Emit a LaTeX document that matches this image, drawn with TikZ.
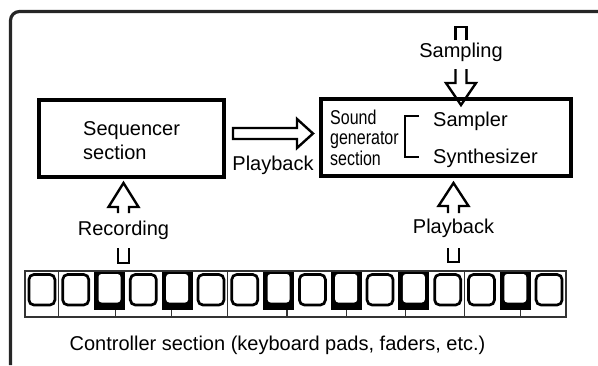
\documentclass[tikz,border=0pt]{standalone}
\usepackage{fontspec}
\setmainfont{Liberation Sans}
\newfontfamily\condfont[FakeStretch=0.8]{Liberation Sans}
\usetikzlibrary{calc}

% half widths of block-arrow shafts and heads
\def\shw{5.5pt}
\def\hhw{15pt}
% width of one pad cell on the keyboard
\def\kw{33.8125}

% closed tail of a vertical block arrow: #1 closed end, #2 open end
\newcommand\shafttail[2]{%
  \draw[arrowline] ([xshift=-\shw]#2) -- ([xshift=-\shw]#1) -- ([xshift=\shw]#1) -- ([xshift=\shw]#2);}
% head part of a vertical block arrow: #1 open shaft end, #2 head base, #3 tip
\newcommand\arrowhead[3]{%
  \draw[arrowline] ([xshift=-\shw]#1) -- ([xshift=-\shw]#2) -- ([xshift=-\hhw]#2) -- (#3)
    -- ([xshift=\hhw]#2) -- ([xshift=\shw]#2) -- ([xshift=\shw]#1);}

\begin{document}
\begin{tikzpicture}[x=1pt,y=-1pt,
  every node/.style={font=\fontsize{20}{24}\selectfont, inner sep=0pt},
  lbl/.style={anchor=base},
  txt/.style={anchor=base west},
  cond/.style={anchor=base west, font=\condfont\fontsize{20}{21}\selectfont},
  box/.style={draw, line width=3.2pt},
  frame/.style={draw=black!85, line width=3.2pt, rounded corners=9pt},
  arrowline/.style={draw, line width=2.4pt, line join=miter, fill=white},
  keyline/.style={draw=black!80, line width=1.1pt},
  pad/.style={draw, line width=2.7pt, rounded corners=5pt},
]
\useasboundingbox (0,0) rectangle (598,365);

% outer frame, open to the right and bottom
\draw[frame] (10.5,365) -- (10.5,11.5) -- (598,11.5);

% ---- arrow coordinates ----
% Sampling (down into the sound generator)
\coordinate (sampTail) at (461,27);
\coordinate (sampCutA) at (461,40);
\coordinate (sampCutB) at (461,69);
\coordinate (sampBase) at (461,83);
\coordinate (sampTip)  at (461,105);
% Recording (up into the sequencer)
\coordinate (recTail) at (123.5,263);
\coordinate (recCutA) at (123.5,248);
\coordinate (recCutB) at (123.5,213);
\coordinate (recBase) at (123.5,207);
\coordinate (recTip)  at (123.5,183);
% Playback from the controller (up into the sound generator)
\coordinate (plTail) at (453.5,262);
\coordinate (plCutA) at (453.5,248);
\coordinate (plCutB) at (453.5,213);
\coordinate (plBase) at (453.5,206);
\coordinate (plTip)  at (453.5,183);
% Playback from sequencer to sound generator (horizontal)
\coordinate (pbTail) at (233,133.5);
\coordinate (pbBase) at (297,133.5);
\coordinate (pbTip)  at (313,133.5);

% ---- block arrows ----
\shafttail{sampTail}{sampCutA}
\arrowhead{sampCutB}{sampBase}{sampTip}
\shafttail{recTail}{recCutA}
\arrowhead{recCutB}{recBase}{recTip}
\shafttail{plTail}{plCutA}
\arrowhead{plCutB}{plBase}{plTip}
\draw[arrowline] ([yshift=5.5pt]pbTail) -- ([yshift=5.5pt]pbBase) -- ([yshift=14.5pt]pbBase)
  -- (pbTip) -- ([yshift=-14.5pt]pbBase) -- ([yshift=-5.5pt]pbBase) -- ([yshift=-5.5pt]pbTail) -- cycle;

% ---- boxes ----
\node[box, minimum width=185pt, minimum height=77pt] (seq) at (131.5,138.5) {};
\node[box, minimum width=250pt, minimum height=77pt] (snd) at (446,137.5) {};

% sequencer text
\node[txt] (seqA) at (83,135) {Sequencer};
\node[txt] (seqB) at (83,159) {section};

% sound generator text
\node[cond] (sndA) at (330,124) {Sound};
\node[cond] (sndB) at (330,144.5) {generator};
\node[cond] (sndC) at (330,165.5) {section};
\node[txt] (smp) at (433,126) {Sampler};
\node[txt] (syn) at (433,163) {Synthesizer};
\draw[line width=2.2pt] ([xshift=-14pt]smp.west |- 0,116) -- (405,116) -- (405,157) -- ([xshift=-14pt]syn.west |- 0,157);

% arrow labels
\node[lbl] (sampl) at (461,57) {Sampling};
\node[lbl] (pbl) at (273,170) {Playback};
\node[lbl] (recl) at (123.5,235) {Recording};
\node[lbl] (pll) at (453.5,233) {Playback};

% ---- keyboard ----
\node[keyline, minimum width=541pt, minimum height=46pt] (kbd) at (295.5,294) {};
\foreach \f in {1, 8/3, 13/3, 6, 31/4, 9.5, 45/4, 13, 44/3}
  \draw[keyline] ({25+\f*\kw},271) -- ({25+\f*\kw},317);
\foreach \i in {2,4,7,9,11,14} {
  \fill ({25+(\i+0.5)*\kw-15.5},272) rectangle ({25+(\i+0.5)*\kw+15.5},309.5);
  \fill[white, rounded corners=3pt] ({25+(\i+0.5)*\kw-11},274) rectangle ({25+(\i+0.5)*\kw+11},302.5);
}
\foreach \i in {0,1,3,5,6,8,10,12,13,15}
  \draw[pad] ({25+(\i+0.5)*\kw-13},274.5) rectangle ({25+(\i+0.5)*\kw+13},305);

\node[lbl] (ctl) at (277.5,350) {Controller section (keyboard pads, faders, etc.)};
\end{tikzpicture}
\end{document}
